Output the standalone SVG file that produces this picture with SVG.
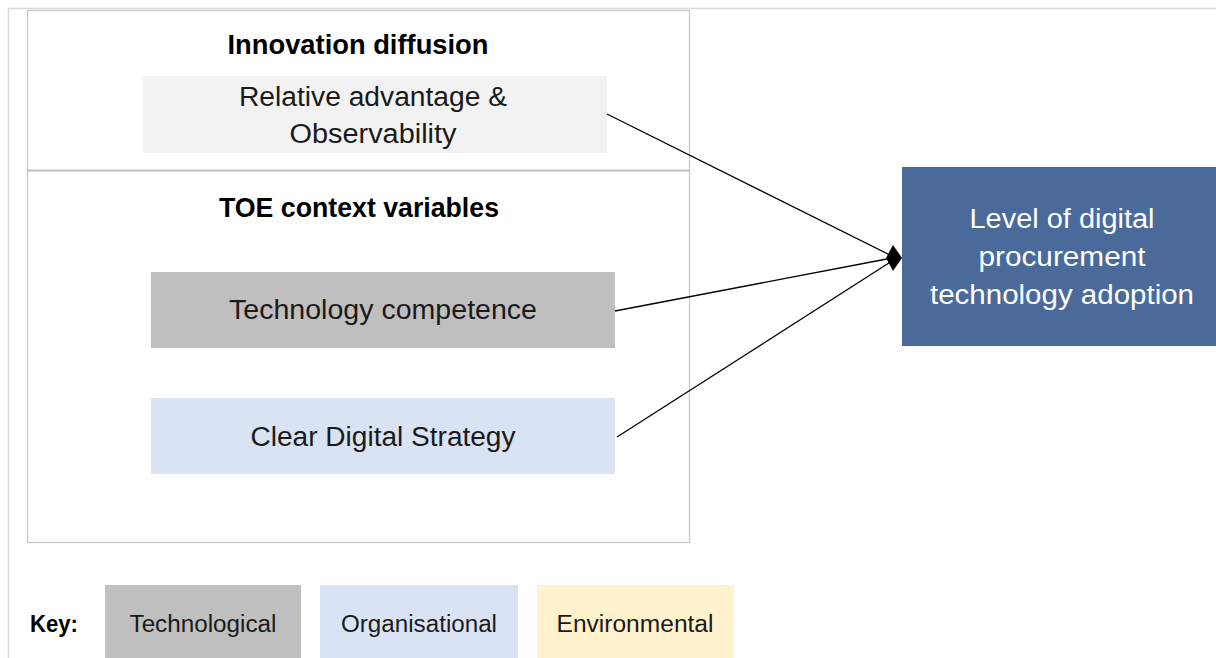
<svg xmlns="http://www.w3.org/2000/svg" width="1216" height="658" viewBox="0 0 1216 658">
  <style>
    .t { font-family: "Liberation Sans", Arial, sans-serif; font-size: 27px; fill: #1a1a1a; text-anchor: middle; }
    .b { font-weight: bold; fill: #000; }
    .w { fill: #ffffff; }
    .k { font-size: 23px; }
    .frame { fill: none; stroke: #d9d9d9; stroke-width: 1.5; }
    .conn { stroke: #000; stroke-width: 1.3; fill: none; }
  </style>

  <rect width="1216" height="658" fill="#ffffff"/>

  <!-- outer page frame -->
  <path class="frame" d="M8.5 658 V8.5 H1216"/>

  <!-- panel containing both theory groups -->
  <g id="panel">
    <rect x="27.5" y="10.5" width="662" height="532" fill="#ffffff" stroke="#c8c8c8" stroke-width="1.3"/>
    <line x1="27.5" y1="170.5" x2="689.5" y2="170.5" stroke="#bfbfbf" stroke-width="2.2"/>
  </g>

  <g id="title-innovation">
    <text class="t b" x="358" y="54" textLength="261" lengthAdjust="spacingAndGlyphs">Innovation diffusion</text>
  </g>

  <g id="relative-advantage">
    <rect x="143" y="76" width="464" height="77" fill="#f2f2f2"/>
    <text class="t" x="373" y="106" textLength="268" lengthAdjust="spacingAndGlyphs">Relative advantage &amp;</text>
    <text class="t" x="373" y="143" textLength="167" lengthAdjust="spacingAndGlyphs">Observability</text>
  </g>

  <g id="title-toe">
    <text class="t b" x="359" y="217" textLength="280" lengthAdjust="spacingAndGlyphs">TOE context variables</text>
  </g>

  <g id="technology-competence">
    <rect x="151" y="272" width="464" height="76" fill="#bfbfbf"/>
    <text class="t" x="383" y="319" textLength="308" lengthAdjust="spacingAndGlyphs">Technology competence</text>
  </g>

  <g id="clear-digital-strategy">
    <rect x="151" y="398" width="464" height="76" fill="#dae3f3"/>
    <text class="t" x="383" y="446" textLength="265" lengthAdjust="spacingAndGlyphs">Clear Digital Strategy</text>
  </g>

  <g id="adoption">
    <rect x="902" y="167" width="314" height="179" fill="#4a6a9b"/>
    <text class="t w" x="1062" y="228" textLength="185" lengthAdjust="spacingAndGlyphs">Level of digital</text>
    <text class="t w" x="1062" y="266" textLength="167" lengthAdjust="spacingAndGlyphs">procurement</text>
    <text class="t w" x="1062" y="304" textLength="264" lengthAdjust="spacingAndGlyphs">technology adoption</text>
  </g>

  <g id="connectors">
    <line class="conn" x1="607" y1="114" x2="892" y2="256"/>
    <line class="conn" x1="615" y1="311" x2="892" y2="258"/>
    <line class="conn" x1="617" y1="437" x2="892" y2="261"/>
    <polygon points="886,258 893,245 902,258 893,271" fill="#000"/>
  </g>

  <g id="key">
    <text class="t b k" x="54" y="632" textLength="48" lengthAdjust="spacingAndGlyphs">Key:</text>
    <rect x="105" y="585" width="196" height="73" fill="#bfbfbf"/>
    <text class="t k" x="203" y="632" textLength="147" lengthAdjust="spacingAndGlyphs">Technological</text>
    <rect x="320" y="585" width="198" height="73" fill="#dae3f3"/>
    <text class="t k" x="419" y="632" textLength="156" lengthAdjust="spacingAndGlyphs">Organisational</text>
    <rect x="537" y="585" width="197" height="73" fill="#fff2cc"/>
    <text class="t k" x="635" y="632" textLength="157" lengthAdjust="spacingAndGlyphs">Environmental</text>
  </g>
</svg>
